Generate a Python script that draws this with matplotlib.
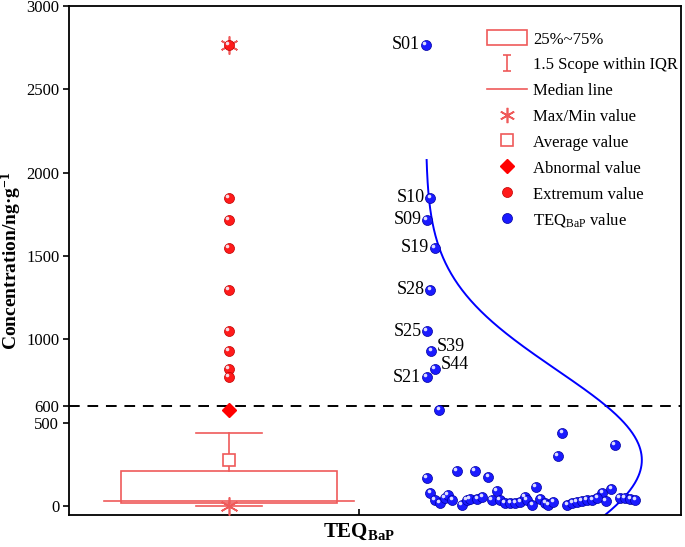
import numpy as np
import matplotlib
matplotlib.use("Agg")
import matplotlib.pyplot as plt
from matplotlib.lines import Line2D
from matplotlib.patches import Patch, Rectangle
from matplotlib.path import Path
from matplotlib.transforms import offset_copy

plt.rcParams['font.family'] = ['Liberation Serif', 'DejaVu Serif']
plt.rcParams['mathtext.fontset'] = 'custom'
plt.rcParams['mathtext.rm'] = 'Liberation Serif'
plt.rcParams['mathtext.bf'] = 'Liberation Serif:bold'
plt.rcParams['mathtext.it'] = 'Liberation Serif:italic'

# ---------------- data ----------------
category = "TEQ$_{\\mathbf{BaP}}$"
y_ticks = [0, 500, 600, 1000, 1500, 2000, 2500, 3000]
threshold = 600

# box statistics
q1, q3 = 18, 210
median = 32
whisker_low, whisker_high = 3, 438
mean_value = 276
min_value, max_value = 3, 2766
abnormal_values = [576]
extremum_values = [2766, 1848, 1716, 1548, 1296, 1050, 930, 822, 774]

# individual TEQ_BaP values with their horizontal jitter
teq_values = [2766, 1848, 1716, 1548, 1296, 1050, 930, 822, 774, 576,
              366, 438, 300,
              168, 210, 210, 174, 114, 90, 78, 102, 78, 30,
              36, 18, 48, 66, 36, 6, 36, 42, 42, 54, 36, 36, 18, 18, 18, 24,
              54, 36, 6, 42, 18, 6, 24, 6, 18, 24, 30, 36, 36, 48, 48, 48, 42, 36]
teq_jitter = [5.83, 5.90, 5.85, 5.98, 5.90, 5.85, 5.92, 5.98, 5.85, 6.05,
              8.92, 8.06, 7.99,
              5.85, 6.34, 6.63, 6.85, 7.63, 6.99, 5.90, 8.86, 8.71, 8.77,
              5.98, 6.06, 6.14, 6.19, 6.26, 6.42, 6.50, 6.55, 6.67, 6.75, 6.91, 7.04,
              7.12, 7.21, 7.29, 7.37, 7.45, 7.48, 7.57, 7.70, 7.78, 7.83, 7.91,
              8.14, 8.22, 8.30, 8.38, 8.46, 8.55, 8.63, 9.00, 9.08, 9.17, 9.25]
sample_ids = ['S01', 'S10', 'S09', 'S19', 'S28', 'S25', 'S39', 'S44', 'S21']
label_side = ['L', 'L', 'L', 'L', 'L', 'L', 'R', 'R', 'L']

# normal distribution curve parameters
fit_mean, fit_sd = 276, 540
curve_range = (-54, 2076)

# ---------------- layout/styles ----------------
box_center = 2.614
box_half = 1.765
median_half = 2.04
cap_half = 0.54
tick_pos = 4.739
curve_base = 5.83
curve_amp = 3.53

RED_BOX = '#ef5a5a'
RED = '#ff0000'
BLUE = '#0000ff'

fig = plt.figure(figsize=(6.85, 5.47), dpi=100)
ax = fig.add_axes([69/685, 32/547, 612/685, 509/547])
ax.set_xlim(0, 10)
ax.set_ylim(-54, 3000)

# threshold line
ax.axhline(threshold, color='black', lw=1.4, ls=(0, (5.5, 4)), zorder=1)

# distribution curve
cv = np.linspace(curve_range[0], curve_range[1], 400)
cx = curve_base + curve_amp * np.exp(-(cv - fit_mean) ** 2 / (2 * fit_sd ** 2))
ax.plot(cx, cv, color=BLUE, lw=1.4, zorder=2)

# box
ax.add_patch(Rectangle((box_center - box_half, q1), 2 * box_half, q3 - q1,
                       facecolor='none', edgecolor=RED_BOX, lw=1.2, zorder=3))
ax.plot([box_center - median_half, box_center + median_half], [median, median],
        color=RED_BOX, lw=1.2, zorder=3)
ax.plot([box_center, box_center], [q3, whisker_high], color=RED_BOX, lw=1.2, zorder=3)
ax.plot([box_center, box_center], [q1, whisker_low], color=RED_BOX, lw=1.2, zorder=3)
for w in (whisker_low, whisker_high):
    ax.plot([box_center - cap_half, box_center + cap_half], [w, w],
            color=RED_BOX, lw=1.2, zorder=3)

# mean square
ax.plot([box_center], [mean_value], marker='s', ms=9, mfc='white', mec=RED_BOX,
        mew=1.2, zorder=4, ls='none')
# min/max asterisks
ax.plot([box_center, box_center], [min_value, max_value], marker=(6, 2, 0), ms=13,
        color=RED_BOX, mew=1.2, ls='none', zorder=5)
# abnormal
ax.plot([box_center] * len(abnormal_values), abnormal_values, marker='D', ms=7,
        color=RED, ls='none', zorder=5)


def balls(xs, ys, color, edge, z):
    ax.plot(xs, ys, marker='o', ms=7.2, mfc=color, mec=edge, mew=0.5,
            ls='none', zorder=z)
    tr = offset_copy(ax.transData, fig=fig, x=-1.1, y=1.1, units='points')
    ax.plot(xs, ys, marker='o', ms=2.6, mfc='#f4f4ff', mec='none',
            ls='none', zorder=z + 0.1, transform=tr, alpha=0.9)


balls([box_center] * len(extremum_values), extremum_values, '#ff1a1a', '#c00000', 6)
balls(teq_jitter, teq_values, '#1a1aff', '#0000a0', 6)

# sample labels
for i, sid in enumerate(sample_ids):
    if label_side[i] == 'L':
        ax.annotate(sid, (teq_jitter[i], teq_values[i]), xytext=(-4, 0),
                    textcoords='offset points', ha='right', va='center', fontsize=13)
    else:
        ax.annotate(sid, (teq_jitter[i], teq_values[i]), xytext=(4, 3),
                    textcoords='offset points', ha='left', va='center', fontsize=13)

# axes
ax.set_yticks(y_ticks)
ax.set_yticklabels([str(t) for t in y_ticks], fontsize=12)
ax.set_xticks([tick_pos])
ax.set_xticklabels([category], fontsize=15, fontweight='bold')
ax.tick_params(axis='y', direction='out', length=4, width=1.2, pad=3)
ax.tick_params(axis='x', direction='in', length=4, width=1.2, pad=5)
for s in ax.spines.values():
    s.set_linewidth(1.3)
ax.set_ylabel("Concentration/ng·g$^{\\mathbf{-1}}$", fontsize=14, fontweight='bold')
ax.yaxis.set_label_coords(-0.073, 0.5)

# legend
Ipath = Path([(-0.5, -1), (0.5, -1), (0, -1), (0, 1), (-0.5, 1), (0.5, 1)],
             [Path.MOVETO, Path.LINETO, Path.MOVETO, Path.LINETO, Path.MOVETO, Path.LINETO])
handles = [
    Patch(facecolor='none', edgecolor=RED_BOX, lw=1.2),
    Line2D([], [], marker=Ipath, ms=11, color=RED_BOX, mew=1.2, ls='none'),
    Line2D([], [], color=RED_BOX, lw=1.2),
    Line2D([], [], marker=(6, 2, 0), ms=11, color=RED_BOX, mew=1.2, ls='none'),
    Line2D([], [], marker='s', ms=9, mfc='white', mec=RED_BOX, mew=1.2, ls='none'),
    Line2D([], [], marker='D', ms=7, color=RED, ls='none'),
    Line2D([], [], marker='o', ms=7.2, mfc='#ff1a1a', mec='#c00000', mew=0.5, ls='none'),
    Line2D([], [], marker='o', ms=7.2, mfc='#1a1aff', mec='#0000a0', mew=0.5, ls='none'),
]
labels = ['25%~75%', '1.5 Scope within IQR', 'Median line', 'Max/Min value',
          'Average value', 'Abnormal value', 'Extremum value',
          'TEQ$_{\\mathregular{BaP}}$ value']
ax.legend(handles, labels, loc='upper left', bbox_to_anchor=(0.683, 0.952),
          frameon=False, fontsize=12, handlelength=2.4, handleheight=1.0,
          handletextpad=0.35, labelspacing=0.52, borderpad=0, borderaxespad=0)

fig.savefig('out.png', dpi=100)
